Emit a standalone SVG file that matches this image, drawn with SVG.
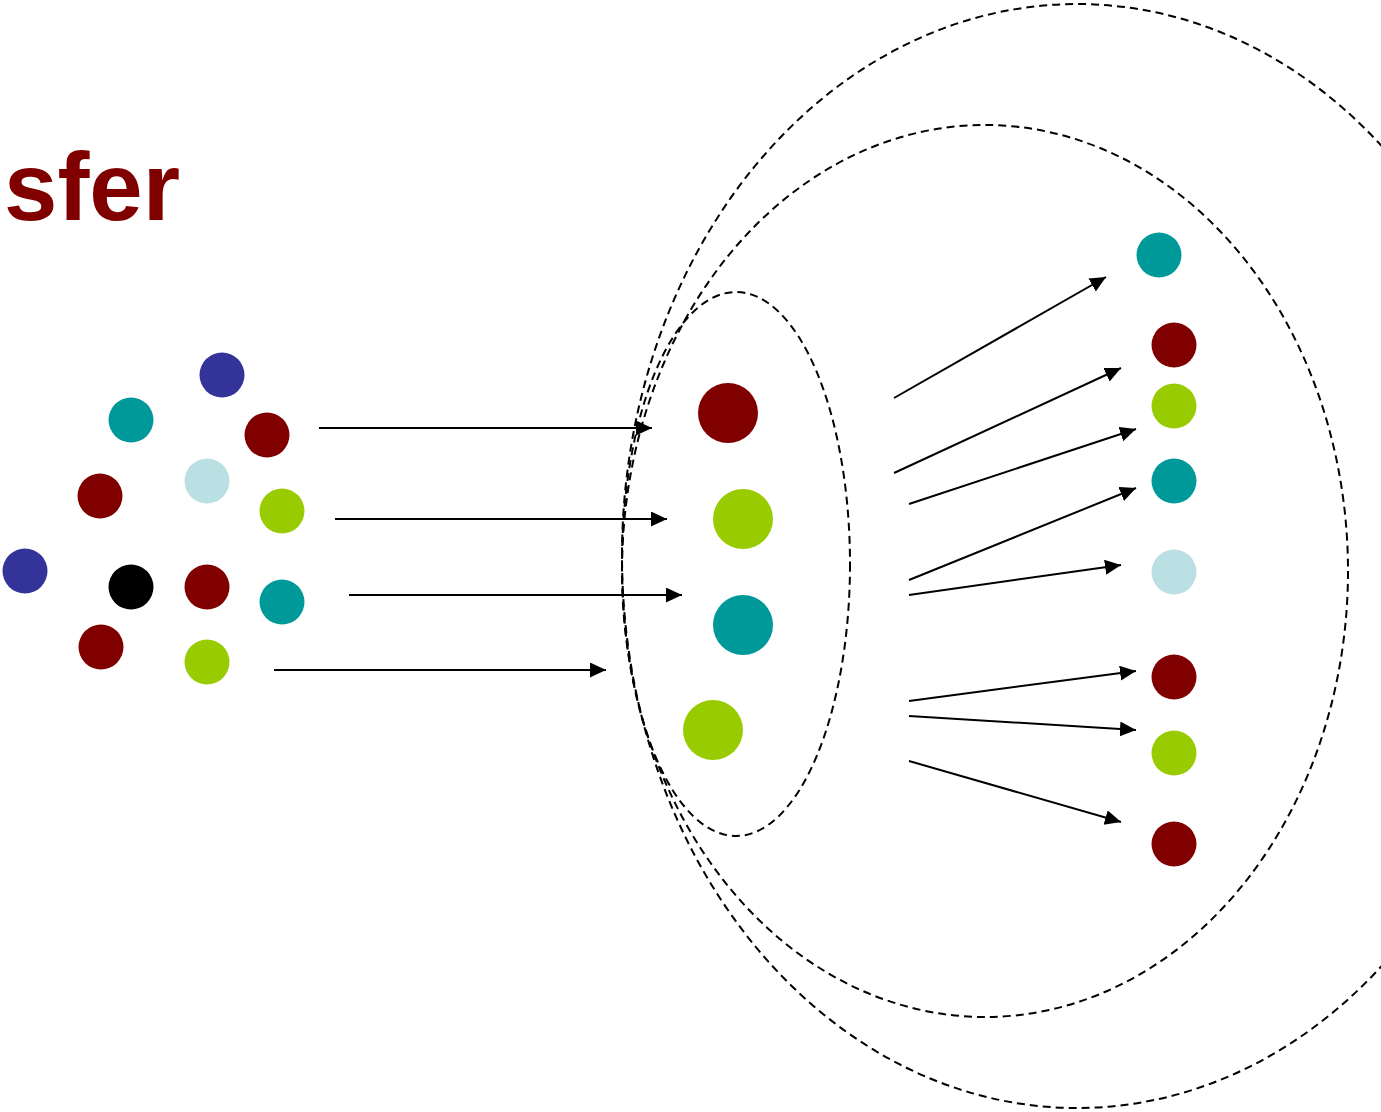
<svg xmlns="http://www.w3.org/2000/svg" width="1381" height="1112" viewBox="0 0 1381 1112">
<defs>
<style>
.dr{fill:#800000}.gr{fill:#99CC00}.te{fill:#009999}.bl{fill:#333399}.lb{fill:#BBE0E3}.bk{fill:#000000}
.cv{fill:none;stroke:#000;stroke-width:2;stroke-dasharray:8 5}
.ar{fill:none;stroke:#000;stroke-width:2;marker-end:url(#ah)}
.title{font-family:"Liberation Sans",Arial,sans-serif;font-weight:bold;font-size:96px;fill:#800000}
</style>
<marker id="ah" markerUnits="userSpaceOnUse" markerWidth="18" markerHeight="16" refX="16" refY="7.5" orient="auto">
<path d="M0,0 L16,7.5 L0,15 z" fill="#000"/>
</marker>
</defs>
<rect width="1381" height="1112" fill="#fff"/>
<text class="title" x="4" y="220">sfer</text>
<g id="boundaries">
<ellipse class="cv" cx="1077" cy="556" rx="455" ry="552"/>
<ellipse class="cv" cx="985" cy="571" rx="363" ry="446"/>
<ellipse class="cv" cx="736" cy="564" rx="114" ry="272"/>
</g>
<g id="source-dots">
<circle class="bl" cx="222" cy="375" r="22.5"/>
<circle class="te" cx="131" cy="420" r="22.5"/>
<circle class="dr" cx="267" cy="435" r="22.5"/>
<circle class="lb" cx="207" cy="481" r="22.5"/>
<circle class="dr" cx="100" cy="496" r="22.5"/>
<circle class="gr" cx="282" cy="511" r="22.5"/>
<circle class="bl" cx="25" cy="571" r="22.5"/>
<circle class="bk" cx="131" cy="587" r="22.5"/>
<circle class="dr" cx="207" cy="587" r="22.5"/>
<circle class="te" cx="282" cy="602" r="22.5"/>
<circle class="dr" cx="101" cy="647" r="22.5"/>
<circle class="gr" cx="207" cy="662" r="22.5"/>
</g>
<g id="middle-dots">
<circle class="dr" cx="728" cy="413" r="30"/>
<circle class="gr" cx="743" cy="519" r="30"/>
<circle class="te" cx="743" cy="625" r="30"/>
<circle class="gr" cx="713" cy="730" r="30"/>
</g>
<g id="target-dots">
<circle class="te" cx="1159" cy="255" r="22.5"/>
<circle class="dr" cx="1174" cy="345" r="22.5"/>
<circle class="gr" cx="1174" cy="406" r="22.5"/>
<circle class="te" cx="1174" cy="481" r="22.5"/>
<circle class="lb" cx="1174" cy="572" r="22.5"/>
<circle class="dr" cx="1174" cy="677" r="22.5"/>
<circle class="gr" cx="1174" cy="753" r="22.5"/>
<circle class="dr" cx="1174" cy="844" r="22.5"/>
</g>
<g id="connectors">
<line class="ar" x1="319" y1="428" x2="652" y2="428"/>
<line class="ar" x1="335" y1="519" x2="667" y2="519"/>
<line class="ar" x1="349" y1="595" x2="682" y2="595"/>
<line class="ar" x1="274" y1="670" x2="606" y2="670"/>
<line class="ar" x1="894" y1="398" x2="1106" y2="277"/>
<line class="ar" x1="894" y1="473" x2="1121" y2="368"/>
<line class="ar" x1="909" y1="504" x2="1136" y2="429"/>
<line class="ar" x1="909" y1="580" x2="1136" y2="488"/>
<line class="ar" x1="909" y1="595" x2="1121" y2="565"/>
<line class="ar" x1="909" y1="701" x2="1136" y2="671"/>
<line class="ar" x1="909" y1="716" x2="1136" y2="730"/>
<line class="ar" x1="909" y1="761" x2="1121" y2="822"/>
</g>
</svg>
